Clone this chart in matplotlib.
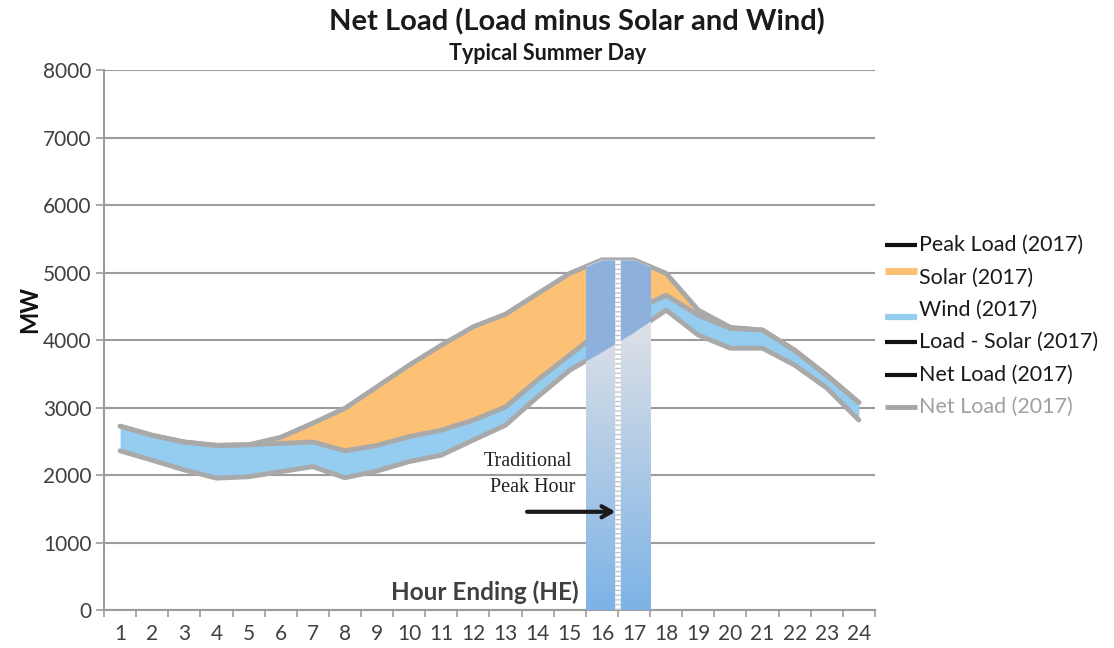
import numpy as np
import matplotlib.pyplot as plt
from matplotlib.lines import Line2D
from matplotlib.patches import Rectangle
from matplotlib.colors import to_rgb

# hourly values, MW (hour ending 1..24)
hours = list(range(1, 25))
load = [2725, 2590, 2490, 2440, 2450, 2560, 2770, 2990, 3310, 3630, 3925, 4200,
        4385, 4690, 4990, 5190, 5190, 4990, 4445, 4190, 4150, 3850, 3480, 3075]
load_minus_solar = [2725, 2590, 2490, 2440, 2450, 2470, 2490, 2360, 2440, 2570, 2665, 2815,
                    3010, 3410, 3780, 4150, 4450, 4665, 4370, 4175, 4150, 3850, 3480, 3075]
net_load = [2360, 2220, 2075, 1955, 1975, 2050, 2125, 1960, 2060, 2200, 2295, 2520,
            2740, 3160, 3555, 3830, 4120, 4445, 4075, 3880, 3880, 3630, 3290, 2815]
peak_hours = [16, 17]
y_ticks = list(range(0, 8001, 1000))

plt.rcParams['font.family'] = ['Lato', 'DejaVu Sans']

fig = plt.figure(figsize=(11.14, 6.48), dpi=100)
ax = fig.add_axes([0.0934, 0.0586, 0.692, 0.833])

GRID = '#9c9c9c'
LINE = '#a9a9a9'
SOLAR = '#fcc174'
WIND = '#94cdef'

# stacked areas
ax.fill_between(hours, load_minus_solar, load, color=SOLAR, lw=0, zorder=2)
ax.fill_between(hours, net_load, load_minus_solar, color=WIND, lw=0, zorder=2)
for s in (load, load_minus_solar, net_load):
    ax.plot(hours, s, color=LINE, lw=3.5, zorder=3, solid_joinstyle='round',
            solid_capstyle='round')

# highlighted peak-hour band
x0, x1 = peak_hours[0] - 0.5, peak_hours[-1] + 0.5
under = ax.fill_between(hours, 0, load, color='none', lw=0)
t = np.linspace(0, 1, 300)
f = np.clip(t * 8000 / 4300, 0, 1)[:, None, None]
c0 = np.array(to_rgb('#7db3e6'))
c1 = np.array(to_rgb('#dfe1e6'))
grad = c0 + (c1 - c0) * f
im = ax.imshow(grad, extent=[x0, x1, 0, 8000], origin='lower', aspect='auto',
               interpolation='bilinear', zorder=4)
im.set_clip_path(under.get_paths()[0], transform=ax.transData)

upper = ax.fill_between(hours, net_load, load, color='#8db0dd', lw=0, zorder=5)
upper.set_clip_path(Rectangle((x0, 0), x1 - x0, 8000, transform=ax.transData))

xm = (x0 + x1) / 2
ym = np.interp(xm, hours, load)
ax.plot([xm, xm], [0, ym], color='white', lw=4, zorder=6, solid_capstyle='butt')
ax.plot([xm, xm], [0, ym], color='#c4c4c4', lw=4, linestyle=(0, (0.25, 0.6)),
        dash_capstyle='butt', zorder=6)

# annotation
ax.annotate('', xy=(16.42, 1456), xytext=(13.67, 1456), zorder=7,
            arrowprops=dict(arrowstyle='->,head_length=0.7,head_width=0.4',
                            lw=3, color='#1a1a1a', shrinkA=0, shrinkB=0))
ax.text(13.7, 2200, 'Traditional', ha='center', va='center', family='Liberation Serif',
        fontsize=14.5, color='#222222', zorder=7)
ax.text(13.83, 1810, 'Peak Hour', ha='center', va='center', family='Liberation Serif',
        fontsize=14.5, color='#222222', zorder=7)
ax.text(12.36, 270, 'Hour Ending (HE)', ha='center', va='center', fontsize=17.5,
        fontweight='bold', color='#404040', zorder=7)

# axes styling
ax.set_xlim(0.5, 24.5)
ax.set_ylim(0, 8000)
ax.set_yticks(y_ticks)
ax.set_xticks(hours)
ax.set_xticks(np.arange(0.5, 25, 1), minor=True)
ax.grid(axis='y', color=GRID, lw=1.5)
ax.set_axisbelow(True)
for side in ('top', 'right'):
    ax.spines[side].set_visible(False)
for side in ('left', 'bottom'):
    ax.spines[side].set_color(GRID)
    ax.spines[side].set_linewidth(1.5)
ax.tick_params(axis='y', length=6, width=1.2, color=GRID, labelsize=15,
               labelcolor='#404040', pad=3)
ax.tick_params(axis='x', which='major', length=0, labelsize=15,
               labelcolor='#404040', pad=10)
ax.tick_params(axis='x', which='minor', length=5, width=1.2, color=GRID)

fig.text(0.027, 0.522, 'MW', rotation=90, ha='center', va='center', fontsize=17,
         fontweight='bold', color='#111111')
fig.text(0.518, 0.966, 'Net Load (Load minus Solar and Wind)', ha='center', va='center',
         fontsize=21, fontweight='bold', color='#1a1a1a')
fig.text(0.492, 0.918, 'Typical Summer Day', ha='center', va='center', fontsize=15.5,
         fontweight='bold', color='#1a1a1a')

# legend drawn by hand
entries = [
    ('Peak Load (2017)', '#111111', 3, 0, '#1a1a1a'),
    ('Solar (2017)', SOLAR, 5, 6, '#1a1a1a'),
    ('Wind (2017)', WIND, 4.5, -7, '#1a1a1a'),
    ('Load - Solar (2017)', '#111111', 3, 0, '#1a1a1a'),
    ('Net Load (2017)', '#111111', 3, 0, '#1a1a1a'),
    ('Net Load (2017)', '#a6a6a6', 3.5, 0, '#a0a0a0'),
]
W, H = 1114, 648
for i, (label, col, lw, dy, tcol) in enumerate(entries):
    y = 245 + i * 32.4
    yl = 1 - (y - dy) / H
    fig.add_artist(Line2D([885 / W, 917 / W], [yl, yl], color=col, lw=lw,
                          solid_capstyle='butt'))
    fig.text(919 / W, 1 - y / H, label, ha='left', va='center', fontsize=15.5, color=tcol)

fig.savefig('out.png', dpi=100)
